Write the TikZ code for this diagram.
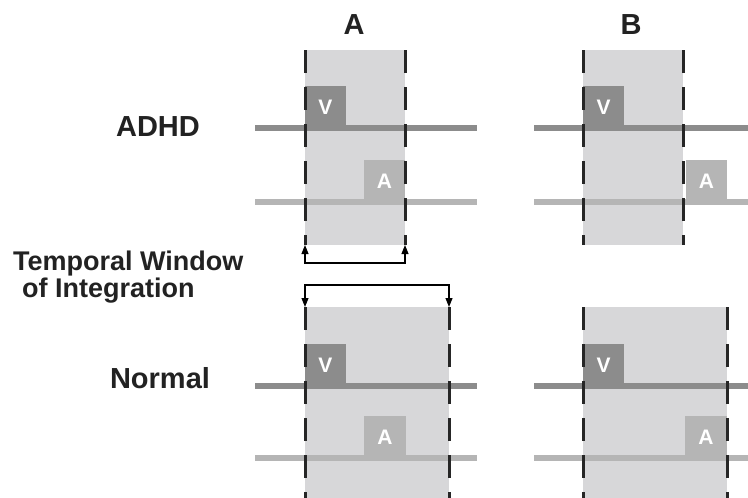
\documentclass[tikz,border=0pt]{standalone}
\usepackage{fontspec}
\setmainfont{Liberation Sans}
\usetikzlibrary{arrows.meta}
\definecolor{winbg}{HTML}{D7D7D9}
\definecolor{vcol}{HTML}{8C8C8C}
\definecolor{acol}{HTML}{B5B5B5}
\definecolor{dashc}{HTML}{262626}
\definecolor{txt}{HTML}{222222}
\begin{document}
\begin{tikzpicture}[x=1pt,y=-1pt,
 win/.style={fill=winbg,draw=none,inner sep=0,outer sep=0,anchor=north west},
 sig/.style={fill=#1,draw=none,inner sep=0,outer sep=0,text=white,font=\fontsize{21}{21}\selectfont\bfseries,minimum width=41pt,minimum height=42pt,anchor=south west},
 vline/.style={draw=vcol,line width=6pt},
 aline/.style={draw=acol,line width=6pt},
 dline/.style={draw=dashc,line width=3pt,dash pattern=on 23pt off 14pt},
 brk/.style={draw=black,line width=1.1pt,{Triangle[width=7pt,length=9pt]}-{Triangle[width=7pt,length=9pt]}},
 lab/.style={font=\fontsize{29}{29}\selectfont\bfseries,text=txt,inner sep=0,anchor=base},
 tlab/.style={font=\fontsize{27}{27}\selectfont\bfseries,text=txt,inner sep=0,anchor=base west},
]
\useasboundingbox (0,0) rectangle (748,498);
\fill[white] (0,0) rectangle (748,498);

% windows
\node[win,minimum width=100pt,minimum height=195pt] (wA1) at (305,50) {};
\node[win,minimum width=100pt,minimum height=195pt] (wB1) at (583,50) {};
\node[win,minimum width=144pt,minimum height=191pt] (wA2) at (305,307) {};
\node[win,minimum width=144pt,minimum height=191pt] (wB2) at (583,307) {};

% signal boxes
\node[sig=vcol] (vA1) at (305,128) {V};
\node[sig=acol] (aA1) at (364,202) {A};
\node[sig=vcol] (vB1) at (583,128) {V};
\node[sig=acol] (aB1) at (686,202) {A};
\node[sig=vcol] (vA2) at (305,386) {V};
\node[sig=acol,minimum width=42pt] (aA2) at (364,458) {A};
\node[sig=vcol] (vB2) at (583,386) {V};
\node[sig=acol,minimum width=42pt] (aB2) at (685,458) {A};

% signal lines
\draw[vline] (255,128) -- (477,128);
\draw[aline] (255,202) -- (477,202);
\draw[vline] (534,128) -- (748,128);
\draw[aline] (534,202) -- (748,202);
\draw[vline] (255,386) -- (477,386);
\draw[aline] (255,458) -- (477,458);
\draw[vline] (534,386) -- (748,386);
\draw[aline] (534,458) -- (748,458);

% dashed window borders
\draw[dline] (wA1.north west) -- (wA1.south west);
\draw[dline] (wA1.north east) -- (wA1.south east);
\draw[dline] (wB1.north west) -- (wB1.south west);
\draw[dline] (wB1.north east) -- (wB1.south east);
\draw[dline] (wA2.north west) -- (wA2.south west);
\draw[dline] (wA2.north east) -- (wA2.south east);
\draw[dline] (wB2.north west) -- (wB2.south west);
\draw[dline] (wB2.north east) -- (wB2.south east);

% brackets
\coordinate (b1l) at (305,263);
\coordinate (b1r) at (405,263);
\draw[brk] (wA1.south west) -- (b1l) -- (b1r) -- (wA1.south east);
\coordinate (b2l) at (305,285);
\coordinate (b2r) at (449,285);
\draw[brk] (wA2.north west) -- (b2l) -- (b2r) -- (wA2.north east);

% labels
\node[lab] (hA) at (354,34) {A};
\node[lab] (hB) at (631,34) {B};
\node[lab] (adhd) at (158,136) {ADHD};
\node[lab] (norm) at (160,388) {Normal};
\node[tlab] (tw1) at (13,270) {Temporal Window};
\node[tlab] (tw2) at (22,297) {of Integration};
\end{tikzpicture}
\end{document}
